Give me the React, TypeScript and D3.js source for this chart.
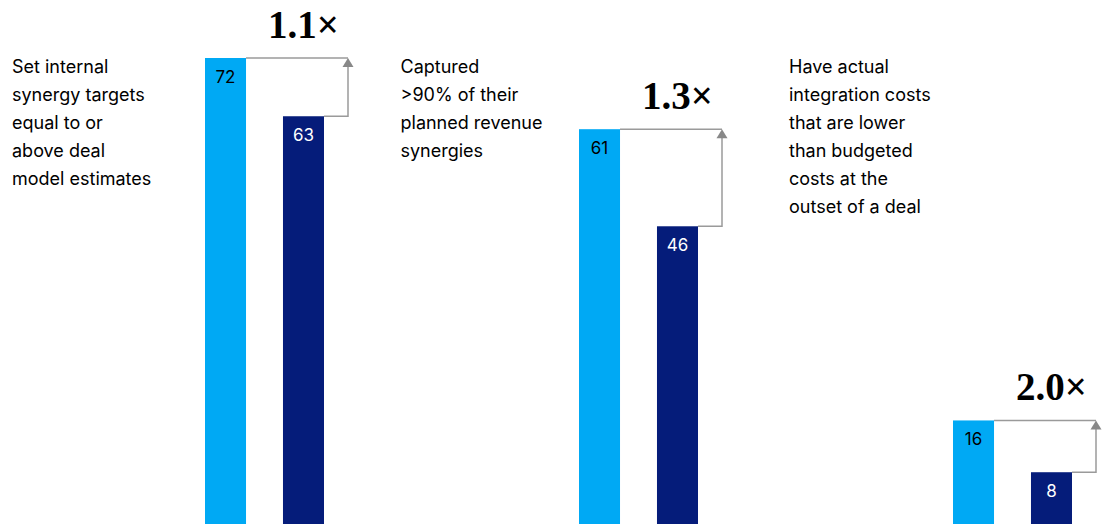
import React, { useEffect, useRef } from "react";
import * as d3 from "d3";

const groups = ["targets", "revenue", "costs"];
const series = ["top", "others"];
const topValues = [72, 61, 16];
const otherValues = [63, 46, 8];
const multipliers = ["1.1×", "1.3×", "2.0×"];
const descriptions = [
  ["Set internal", "synergy targets", "equal to or", "above deal", "model estimates"],
  ["Captured", ">90% of their", "planned revenue", "synergies"],
  ["Have actual", "integration costs", "that are lower", "than budgeted", "costs at the", "outset of a deal"],
];

const LIGHT = "#00A9F4";
const DARK = "#051C7A";
const GREY = "#9a9a9a";

const App: React.FC = () => {
  const svgRef = useRef<SVGSVGElement | null>(null);

  useEffect(() => {
    if (!svgRef.current) return;
    const width = 1106;
    const height = 524;
    const svg = d3.select(svgRef.current);
    svg.selectAll("*").remove();
    svg.attr("width", width).attr("height", height);

    const y = d3.scaleLinear().domain([0, 72]).range([height, 58]);

    const x0 = d3.scaleBand<string>().domain(groups).range([205, 205 + 3 * 374]).paddingInner(0);
    const x1 = d3.scaleBand<string>().domain(series).range([0, 119]).paddingInner(0.474).paddingOuter(0);
    const xText = d3.scaleBand<string>().domain(groups).range([12, 12 + 3 * 388.5]);

    const sans = "Inter, 'Liberation Sans', Arial, sans-serif";

    groups.forEach((gName, i) => {
      const g = svg.append("g").attr("transform", `translate(${x0(gName)},0)`);
      const vals = [topValues[i], otherValues[i]];
      const bw = x1.bandwidth();

      g.selectAll("rect")
        .data(vals)
        .enter()
        .append("rect")
        .attr("x", (_, j) => x1(series[j])!)
        .attr("y", d => y(d))
        .attr("width", bw)
        .attr("height", d => height - y(d))
        .attr("fill", (_, j) => (j === 0 ? LIGHT : DARK));

      g.selectAll("text.val")
        .data(vals)
        .enter()
        .append("text")
        .attr("class", "val")
        .attr("x", (_, j) => x1(series[j])! + bw / 2)
        .attr("y", d => y(d) + 25)
        .attr("text-anchor", "middle")
        .attr("font-family", sans)
        .attr("font-size", 17)
        .attr("fill", (_, j) => (j === 0 ? "#000" : "#fff"))
        .text(d => d);

      // bracket with arrow
      const lx = x1("top")! + bw;
      const dx = x1("others")! + bw;
      const ax = dx + 24;
      const yTop = y(vals[0]);
      const yBot = y(vals[1]);
      g.append("path")
        .attr("d", `M${lx},${yTop}H${ax}M${ax},${yTop + 8}V${yBot}H${dx}`)
        .attr("fill", "none")
        .attr("stroke", GREY)
        .attr("stroke-width", 1.5);
      g.append("path")
        .attr("d", `M${ax},${yTop}L${ax + 5.5},${yTop + 9}L${ax - 5.5},${yTop + 9}Z`)
        .attr("fill", "#888");

      g.append("text")
        .attr("x", x1("others")! + bw / 2)
        .attr("y", yTop - 20)
        .attr("text-anchor", "middle")
        .attr("font-family", "'Liberation Serif', 'Times New Roman', serif")
        .attr("font-weight", "bold")
        .attr("font-size", 39)
        .attr("fill", "#000")
        .text(multipliers[i]);

      const t = svg.append("text")
        .attr("x", xText(gName)!)
        .attr("y", 73)
        .attr("font-family", sans)
        .attr("font-size", 18)
        .attr("fill", "#000");
      t.selectAll("tspan")
        .data(descriptions[i])
        .enter()
        .append("tspan")
        .attr("x", xText(gName)!)
        .attr("dy", (_, k) => (k === 0 ? 0 : 28))
        .text(d => d);
    });
  }, []);

  return (
    <svg
      ref={svgRef}
      style={{ position: "absolute", left: 0, top: 0, display: "block", background: "#fff" }}
    ></svg>
  );
};

export default App;
